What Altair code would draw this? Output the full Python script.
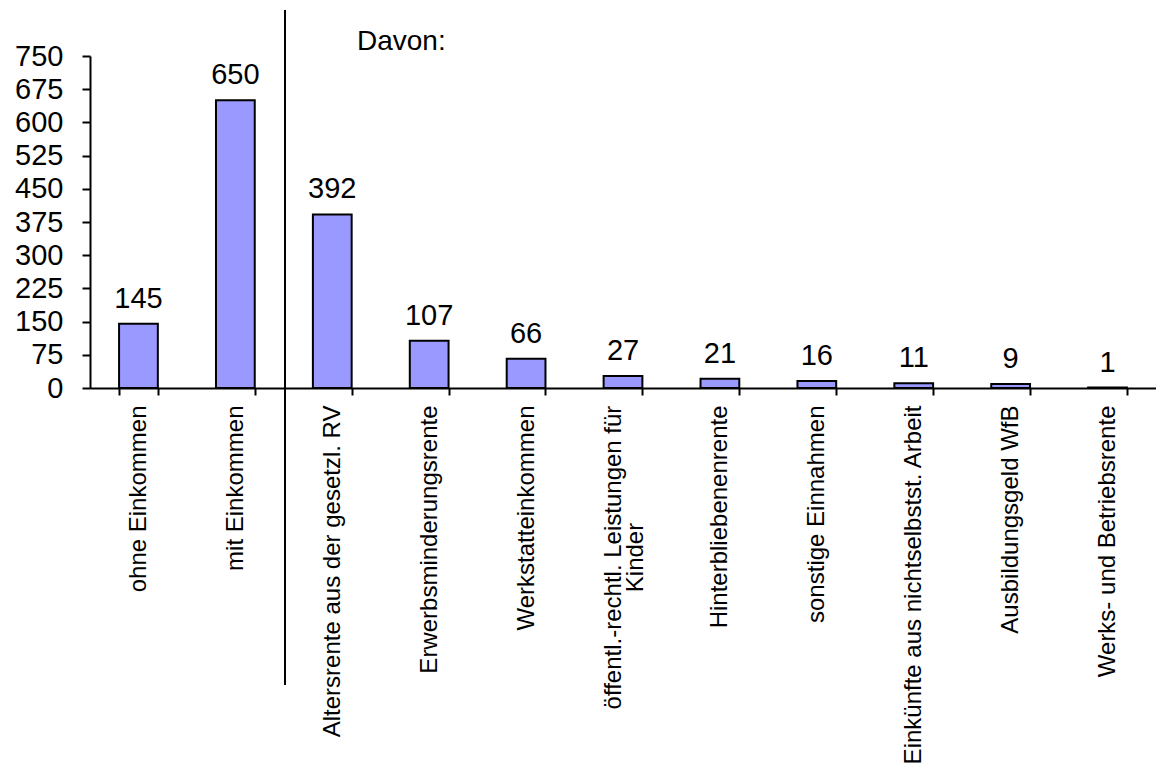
import altair as alt
import pandas as pd

categories = [
    "ohne Einkommen",
    "mit Einkommen",
    "Altersrente aus der gesetzl. RV",
    "Erwerbsminderungsrente",
    "Werkstatteinkommen",
    "öffentl.-rechtl. Leistungen für Kinder",
    "Hinterbliebenenrente",
    "sonstige Einnahmen",
    "Einkünfte aus nichtselbstst. Arbeit",
    "Ausbildungsgeld WfB",
    "Werks- und Betriebsrente",
]
values = [145, 650, 392, 107, 66, 27, 21, 16, 11, 9, 1]
y_ticks = [0, 75, 150, 225, 300, 375, 450, 525, 600, 675, 750]

wrapped_cat = "öffentl.-rechtl. Leistungen für Kinder"
wrapped_lines = ["öffentl.-rechtl. Leistungen für", "Kinder"]

df = pd.DataFrame({"Kategorie": categories, "Anzahl": values})

test = f"datum.value == '{wrapped_cat}'"
line_list = ", ".join(f"'{s}'" for s in wrapped_lines)
label_expr = f"{test} ? [{line_list}] : datum.value"

FONT = "Liberation Sans"

x_axis = alt.Axis(
    title=None,
    labelAngle=270,
    labelAlign={"condition": {"test": test, "value": "center"}, "value": "right"},
    labelBaseline="middle",
    labelFont=FONT,
    labelFontSize=24,
    labelColor="black",
    labelLimit=700,
    labelPadding={"condition": {"test": test, "value": 162}, "value": 10},
    labelOffset={"condition": {"test": test, "value": -10}, "value": 0},
    labelLineHeight=22,
    labelExpr=label_expr,
    tickBand="extent",
    tickSize=7,
    tickColor="black",
    tickWidth=2,
    domainColor="black",
    domainWidth=2,
    grid=False,
)
x_enc = alt.X(
    "Kategorie:N",
    sort=categories,
    scale=alt.Scale(paddingInner=0.6, paddingOuter=0.3),
    axis=x_axis,
)
y_enc = alt.Y(
    "Anzahl:Q",
    scale=alt.Scale(domain=[0, 750], nice=False),
    axis=alt.Axis(
        title=None,
        values=y_ticks,
        labelFont=FONT,
        labelFontSize=29,
        labelColor="black",
        labelPadding=19,
        labelOverlap=False,
        tickSize=8,
        tickColor="black",
        tickWidth=2,
        domainColor="black",
        domainWidth=2,
        grid=False,
    ),
)

bars = alt.Chart(df).mark_bar(
    color="#9999FF", stroke="black", strokeWidth=2
).encode(x=x_enc, y=y_enc)

labels = alt.Chart(df).mark_text(
    dy=-16, baseline="alphabetic", align="center",
    font=FONT, fontSize=29, color="black"
).encode(x=x_enc, y=y_enc, text="Anzahl:Q")

one = pd.DataFrame({"k": [0]})
separator = alt.Chart(one).mark_rule(color="black", strokeWidth=2).encode(
    x=alt.value(195), y=alt.value(-46), y2=alt.value(629)
)
davon = alt.Chart(one).mark_text(
    text="Davon:", align="left", baseline="alphabetic",
    font=FONT, fontSize=28, color="black"
).encode(x=alt.value(267), y=alt.value(-6))

chart = alt.layer(bars, labels, separator, davon).properties(
    width=1066,
    height=332,
    padding={"left": 90, "top": 56, "right": 0, "bottom": 386},
    autosize=alt.AutoSizeParams(type="none"),
    background="white",
).configure_view(stroke=None)

chart.save("out.html", embed_options={"renderer": "svg", "actions": False})
